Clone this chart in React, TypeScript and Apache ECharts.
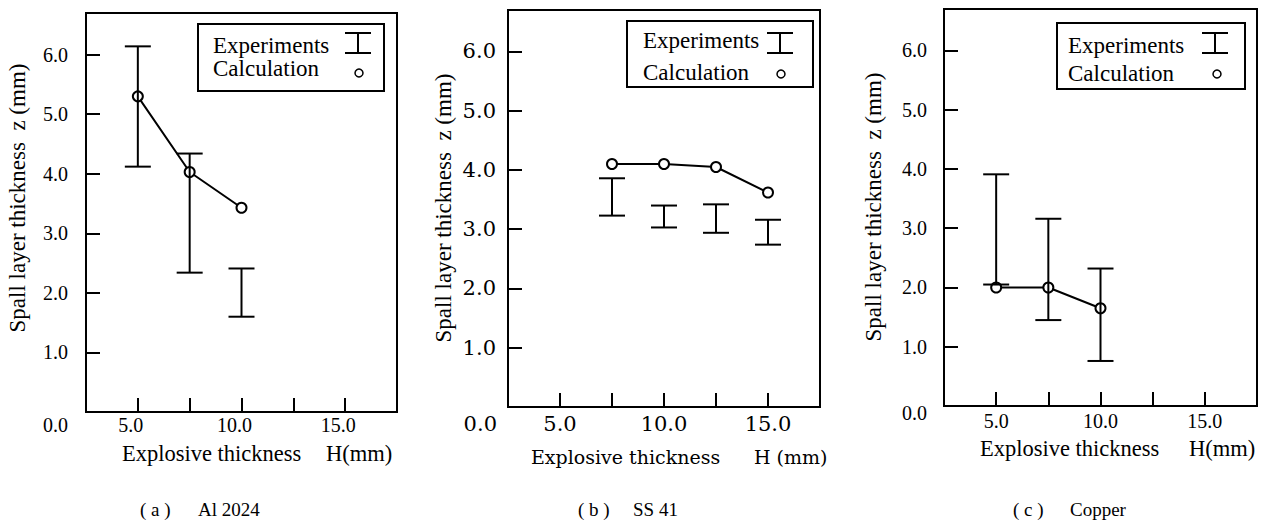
import React, { useEffect, useRef } from "react";
import * as echarts from "echarts";

// ---------- data ----------
const xTickValues = [5, 10, 15];
const yTickValues = [1, 2, 3, 4, 5, 6];

// (a) Al 2024
const aCalcH = [5, 7.5, 10];
const aCalcZ = [5.3, 4.03, 3.43];
const aExpH = [5, 7.5, 10];
const aExpLow = [4.12, 2.34, 1.6];
const aExpHigh = [6.14, 4.34, 2.41];

// (b) SS 41
const bCalcH = [7.5, 10, 12.5, 15];
const bCalcZ = [4.1, 4.1, 4.05, 3.62];
const bExpH = [7.5, 10, 12.5, 15];
const bExpLow = [3.23, 3.03, 2.94, 2.74];
const bExpHigh = [3.86, 3.4, 3.42, 3.16];

// (c) Copper
const cCalcH = [5, 7.5, 10];
const cCalcZ = [2.0, 2.0, 1.65];
const cExpH = [5, 7.5, 10];
const cExpLow = [2.05, 1.45, 0.76];
const cExpHigh = [3.91, 3.16, 2.32];

const captionTags = ["( a )", "( b )", "( c )"];
const captionNames = ["Al 2024", "SS 41", "Copper"];
const yTitle = "Spall layer thickness  z (mm)";
const xTitle = "Explosive thickness";
const xUnits = ["H(mm)", "H (mm)", "H(mm)"];
const legendNames = ["Experiments", "Calculation"];

const TIMES = "'Liberation Serif', 'Times New Roman', serif";
const DJV = "'DejaVu Serif', serif";

const panels = [
  {
    calcH: aCalcH, calcZ: aCalcZ, expH: aExpH, expLow: aExpLow, expHigh: aExpHigh,
    grid: { left: 86, top: 13, width: 311, height: 399 },
    tickFont: TIMES, tickSize: 20, titleFont: TIMES, titleSize: 22.5,
    yLabelMargin: 18, xLabelMargin: 3, xLabelPad: [0, 14, 0, 0],
    zeroLabel: { x: 68, y: 425 },
    yTitlePos: { x: 17, y: 198 },
    xTitlePos: { x: 122, y: 453 }, xUnitPos: { x: 326, y: 453 },
    caption: { x1: 140, x2: 198, y: 509 },
    legend: { x: 198, y: 24, w: 186, h: 67, tx: 213, ty1: 45, ty2: 68, bx: 358, by1: 33, by2: 53, cx: 359, cy: 73 },
  },
  {
    calcH: bCalcH, calcZ: bCalcZ, expH: bExpH, expLow: bExpLow, expHigh: bExpHigh,
    grid: { left: 508, top: 10, width: 312, height: 397 },
    tickFont: DJV, tickSize: 21, titleFont: DJV, titleSize: 19,
    yLabelMargin: 12, xLabelMargin: 6, xLabelPad: [0, 0, 0, 0],
    zeroLabel: { x: 497, y: 424 },
    yTitlePos: { x: 443, y: 208 },
    xTitlePos: { x: 531, y: 457 }, xUnitPos: { x: 754, y: 457 },
    caption: { x1: 578, x2: 633, y: 509 },
    legend: { x: 627, y: 21, w: 186, h: 66, tx: 643, ty1: 40, ty2: 72, bx: 780, by1: 33, by2: 53, cx: 781, cy: 74 },
  },
  {
    calcH: cCalcH, calcZ: cCalcZ, expH: cExpH, expLow: cExpLow, expHigh: cExpHigh,
    grid: { left: 944, top: 9, width: 313, height: 397 },
    tickFont: TIMES, tickSize: 20, titleFont: TIMES, titleSize: 22.5,
    yLabelMargin: 17, xLabelMargin: 5, xLabelPad: [0, 0, 0, 0],
    zeroLabel: { x: 927, y: 413 },
    yTitlePos: { x: 873, y: 207 },
    xTitlePos: { x: 980, y: 448 }, xUnitPos: { x: 1189, y: 448 },
    caption: { x1: 1013, x2: 1070, y: 509 },
    legend: { x: 1057, y: 23, w: 188, h: 66, tx: 1068, ty1: 45, ty2: 73, bx: 1215, by1: 33, by2: 53, cx: 1217, cy: 74 },
  },
];

function txt(text: string, x: number, y: number, font: string, size: number, align = "left", extra: any = {}) {
  return {
    type: "text",
    x,
    y,
    z: 100,
    ...extra,
    style: {
      text,
      fill: "#000",
      fontFamily: font,
      fontSize: size,
      align,
      textAlign: align,
      verticalAlign: "middle",
      textVerticalAlign: "middle",
    },
  };
}

function buildOption() {
  const grids: any[] = [];
  const xAxes: any[] = [];
  const yAxes: any[] = [];
  const series: any[] = [];
  const graphics: any[] = [];

  panels.forEach((p, i) => {
    grids.push({ ...p.grid, show: true, borderColor: "#000", borderWidth: 2, backgroundColor: "transparent" });
    xAxes.push({
      gridIndex: i,
      type: "value",
      min: 2.5,
      max: 17.5,
      interval: 2.5,
      axisLine: { show: true, onZero: false, lineStyle: { color: "#000", width: 2 } },
      axisTick: { show: true, inside: true, length: 14, lineStyle: { color: "#000", width: 2 } },
      splitLine: { show: false },
      axisLabel: {
        show: true,
        margin: p.xLabelMargin,
        color: "#000",
        fontFamily: p.tickFont,
        fontSize: p.tickSize,
        padding: p.xLabelPad,
        showMinLabel: true,
        showMaxLabel: true,
        formatter: (v: number) => (xTickValues.some((t) => Math.abs(t - v) < 1e-6) ? v.toFixed(1) : ""),
      },
    });
    yAxes.push({
      gridIndex: i,
      type: "value",
      min: 0,
      max: 6.7,
      interval: 1,
      axisLine: { show: true, onZero: false, lineStyle: { color: "#000", width: 2 } },
      axisTick: { show: true, inside: true, length: 14, lineStyle: { color: "#000", width: 2 } },
      splitLine: { show: false },
      axisLabel: {
        show: true,
        margin: p.yLabelMargin,
        color: "#000",
        fontFamily: p.tickFont,
        fontSize: p.tickSize,
        showMaxLabel: false,
        formatter: (v: number) => (yTickValues.some((t) => Math.abs(t - v) < 1e-6) ? v.toFixed(1) : ""),
      },
    });

    series.push({
      name: legendNames[1],
      type: "line",
      xAxisIndex: i,
      yAxisIndex: i,
      data: p.calcH.map((h, k) => [h, p.calcZ[k]]),
      symbol: "emptyCircle",
      symbolSize: 10,
      lineStyle: { color: "#000", width: 2 },
      itemStyle: { color: "#000", borderWidth: 2, borderColor: "#000" },
      z: 3,
    });
    series.push({
      name: legendNames[0],
      type: "custom",
      xAxisIndex: i,
      yAxisIndex: i,
      data: p.expH.map((h, k) => [h, p.expLow[k], p.expHigh[k]]),
      z: 4,
      renderItem: (params: any, api: any) => {
        const x = api.value(0);
        const lo = api.coord([x, api.value(1)]);
        const hi = api.coord([x, api.value(2)]);
        const hw = 13;
        const st = { stroke: "#000", lineWidth: 2, fill: "none" };
        return {
          type: "group",
          children: [
            { type: "line", shape: { x1: lo[0], y1: lo[1], x2: hi[0], y2: hi[1] }, style: st },
            { type: "line", shape: { x1: hi[0] - hw, y1: hi[1], x2: hi[0] + hw, y2: hi[1] }, style: st },
            { type: "line", shape: { x1: lo[0] - hw, y1: lo[1], x2: lo[0] + hw, y2: lo[1] }, style: st },
          ],
        };
      },
    });

    // texts
    graphics.push(txt("0.0", p.zeroLabel.x, p.zeroLabel.y, p.tickFont, p.tickSize, "right"));
    graphics.push(txt(yTitle, p.yTitlePos.x, p.yTitlePos.y, TIMES, 23, "center", { rotation: Math.PI / 2 }));
    graphics.push(txt(xTitle, p.xTitlePos.x, p.xTitlePos.y, p.titleFont, p.titleSize, "left"));
    graphics.push(txt(xUnits[i], p.xUnitPos.x, p.xUnitPos.y, p.titleFont, p.titleSize, "left"));
    graphics.push(txt(captionTags[i], p.caption.x1, p.caption.y, TIMES, 19, "left"));
    graphics.push(txt(captionNames[i], p.caption.x2, p.caption.y, TIMES, 19, "left"));

    // legend
    const L = p.legend;
    graphics.push({
      type: "rect",
      z: 90,
      shape: { x: L.x, y: L.y, width: L.w, height: L.h },
      style: { fill: "#fff", stroke: "#000", lineWidth: 2 },
    });
    graphics.push(txt(legendNames[0], L.tx, L.ty1, TIMES, 23, "left"));
    graphics.push(txt(legendNames[1], L.tx, L.ty2, TIMES, 23, "left"));
    const ls = { stroke: "#000", lineWidth: 2 };
    graphics.push({ type: "line", z: 100, shape: { x1: L.bx, y1: L.by1, x2: L.bx, y2: L.by2 }, style: ls });
    graphics.push({ type: "line", z: 100, shape: { x1: L.bx - 13, y1: L.by1, x2: L.bx + 13, y2: L.by1 }, style: ls });
    graphics.push({ type: "line", z: 100, shape: { x1: L.bx - 13, y1: L.by2, x2: L.bx + 13, y2: L.by2 }, style: ls });
    graphics.push({
      type: "circle",
      z: 100,
      shape: { cx: L.cx, cy: L.cy, r: 4 },
      style: { fill: "#fff", stroke: "#000", lineWidth: 1.5 },
    });
  });

  return {
    animation: false,
    backgroundColor: "#fff",
    grid: grids,
    xAxis: xAxes,
    yAxis: yAxes,
    series,
    graphic: graphics,
  };
}

export default function App() {
  const ref = useRef<HTMLDivElement>(null);
  useEffect(() => {
    if (!ref.current) return;
    const chart = echarts.init(ref.current, undefined, { renderer: "svg" });
    chart.setOption(buildOption() as any);
    return () => chart.dispose();
  }, []);
  return (
    <div
      ref={ref}
      style={{ position: "absolute", left: 0, top: 0, width: 1274, height: 522, background: "#fff" }}
    />
  );
}
